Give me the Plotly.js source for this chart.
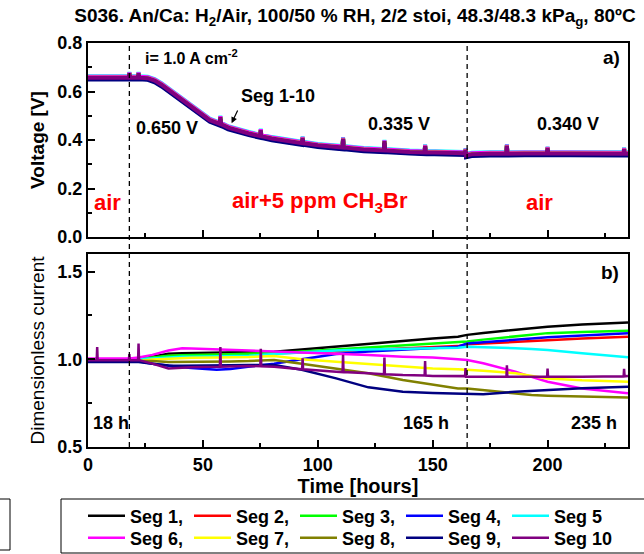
<!DOCTYPE html>
<html>
<head>
<meta charset="utf-8">
<script src="https://cdn.plot.ly/plotly-3.0.1.min.js"></script>
<style>html,body{margin:0;padding:0;background:#fff;}#chart{width:644px;height:554px;}</style>
</head>
<body>
<div id="chart"></div>
<script>
// ---------------- DATA ----------------
const segNames  = ['Seg 1,', 'Seg 2,', 'Seg 3,', 'Seg 4,', 'Seg 5', 'Seg 6,', 'Seg 7,', 'Seg 8,', 'Seg 9,', 'Seg 10'];
const segColors = ['#000000', '#ff0000', '#00ff00', '#0000ff', '#00ffff', '#ff00ff', '#ffff00', '#808000', '#000080', '#800080'];

// panel a) cell voltage (all segments nearly identical), hours / volts
const voltTime = [0, 10, 17.8, 18.0, 18.2, 21.8, 22.0, 22.2, 26, 29, 32, 35, 38, 41, 44, 47, 50, 53,
  57.4, 57.6, 57.8, 61, 65, 70, 75.0, 75.2, 75.4, 80, 86, 93.2, 93.4, 93.6, 100, 110.8, 111.0, 111.2,
  120, 128.8, 129.0, 129.2, 140, 146.5, 146.7, 146.9, 160, 164.1, 164.3, 164.5, 165, 167, 175,
  182.1, 182.3, 182.5, 190, 199.8, 200.0, 200.2, 210, 220, 233.1, 233.3, 233.5, 235];
const voltValue = [0.657, 0.656, 0.657, 0.675, 0.657, 0.657, 0.675, 0.657, 0.655, 0.645, 0.628, 0.607, 0.585, 0.563, 0.541, 0.519, 0.499, 0.482,
  0.466, 0.494, 0.466, 0.451, 0.439, 0.427, 0.416, 0.441, 0.416, 0.406, 0.397, 0.387, 0.409, 0.387, 0.378, 0.369, 0.406, 0.369,
  0.361, 0.357, 0.395, 0.357, 0.351, 0.349, 0.376, 0.349, 0.346, 0.345, 0.360, 0.336, 0.337, 0.341, 0.343,
  0.343, 0.377, 0.343, 0.344, 0.344, 0.367, 0.344, 0.344, 0.343, 0.343, 0.363, 0.343, 0.343];
const voltOffset = [0.000, 0.002, 0.001, -0.004, 0.006, 0.004, 0.000, -0.002, -0.007, 0.000];

// panel b) dimensionless current
const curTime = [0, 18, 22, 28, 35, 41, 45, 56, 62, 70, 81, 93, 108, 122, 137, 150, 161, 165, 172, 186, 193, 200, 215, 235];
const seg1  = [1.000, 1.000, 1.000, 1.015, 1.032, 1.035, 1.036, 1.037, 1.037, 1.038, 1.043, 1.055, 1.072, 1.090, 1.106, 1.118, 1.129, 1.139, 1.150, 1.170, 1.178, 1.186, 1.198, 1.210];
const seg2  = [1.000, 1.000, 1.000, 1.008, 1.018, 1.022, 1.024, 1.026, 1.027, 1.029, 1.032, 1.038, 1.046, 1.053, 1.061, 1.068, 1.075, 1.085, 1.090, 1.100, 1.105, 1.110, 1.118, 1.128];
const seg3  = [1.000, 1.000, 1.000, 1.010, 1.020, 1.023, 1.025, 1.027, 1.028, 1.030, 1.036, 1.045, 1.057, 1.070, 1.082, 1.092, 1.100, 1.102, 1.112, 1.130, 1.140, 1.149, 1.156, 1.162];
const seg4  = [0.990, 0.990, 0.988, 0.975, 0.962, 0.955, 0.950, 0.940, 0.945, 0.958, 0.975, 1.000, 1.030, 1.045, 1.055, 1.063, 1.072, 1.090, 1.096, 1.110, 1.118, 1.126, 1.137, 1.149];
const seg5  = [1.000, 1.000, 1.000, 1.005, 1.012, 1.014, 1.015, 1.016, 1.017, 1.020, 1.030, 1.040, 1.050, 1.055, 1.060, 1.064, 1.066, 1.072, 1.070, 1.063, 1.058, 1.053, 1.034, 1.011];
const seg6  = [1.005, 1.005, 1.010, 1.025, 1.050, 1.063, 1.062, 1.057, 1.054, 1.050, 1.043, 1.040, 1.034, 1.025, 1.015, 1.010, 1.000, 0.996, 0.977, 0.929, 0.900, 0.872, 0.834, 0.806];
const seg7  = [0.990, 0.990, 0.990, 0.998, 1.003, 1.006, 1.008, 1.010, 1.011, 1.013, 1.019, 1.000, 0.986, 0.972, 0.958, 0.948, 0.943, 0.940, 0.935, 0.920, 0.905, 0.891, 0.880, 0.872];
const seg8  = [0.990, 0.990, 0.990, 0.990, 0.985, 0.985, 0.986, 0.987, 0.988, 0.990, 0.996, 0.975, 0.948, 0.920, 0.882, 0.855, 0.834, 0.834, 0.825, 0.805, 0.796, 0.792, 0.787, 0.782];
const seg9  = [0.985, 0.985, 0.985, 0.975, 0.965, 0.963, 0.963, 0.965, 0.966, 0.968, 0.967, 0.940, 0.891, 0.840, 0.815, 0.808, 0.806, 0.806, 0.801, 0.815, 0.820, 0.825, 0.835, 0.843];
const seg10Time = [0, 3.8, 4.0, 4.2, 17.8, 18.0, 18.2, 21.8, 22.0, 22.2, 28, 35, 45, 57.4, 57.6, 57.8, 70, 75.0, 75.2, 75.4,
  81, 93.2, 93.4, 93.6, 108, 110.8, 111.0, 111.2, 122, 128.8, 129.0, 129.2, 137, 146.5, 146.7, 146.9, 150, 161,
  164.1, 164.3, 164.5, 182.1, 182.3, 182.5, 199.8, 200.0, 200.2, 215, 233.1, 233.3, 233.5, 235];
const seg10 = [0.995, 0.995, 1.070, 0.995, 0.995, 1.030, 0.995, 0.995, 1.090, 0.995, 0.975, 0.948, 0.955, 0.958, 1.070, 0.958, 0.962, 0.960, 1.060, 0.960,
  0.958, 0.943, 1.006, 0.943, 0.929, 0.927, 1.025, 0.927, 0.920, 0.915, 1.010, 0.915, 0.910, 0.907, 0.990, 0.907, 0.905, 0.905,
  0.904, 0.950, 0.900, 0.900, 0.965, 0.900, 0.900, 0.947, 0.900, 0.900, 0.903, 0.945, 0.903, 0.905];
const curTimes  = [curTime, curTime, curTime, curTime, curTime, curTime, curTime, curTime, curTime, seg10Time];
const curValues = [seg1, seg2, seg3, seg4, seg5, seg6, seg7, seg8, seg9, seg10];

const eventTimes = [18, 165];

// ---------------- LAYOUT HELPERS ----------------
const W = 644, H = 554;
const mL = 88, mR = 16, mT = 43, mB = 107;
const plotH = H - mT - mB;            // 404
const pw = W - mL - mR;               // 540
const py = (pix) => (H - mB - pix) / plotH;   // page y pixel -> paper y
const px = (pix) => (pix - mL) / pw;           // page x pixel -> paper x
const FONT = 'Liberation Sans, Arial, sans-serif';

const traces = [];
for (let i = 0; i < 10; i++) {
  traces.push({
    x: voltTime, y: voltValue.map(v => v + voltOffset[i]),
    xaxis: 'x2', yaxis: 'y', type: 'scatter', mode: 'lines',
    line: {color: segColors[i], width: 4}, showlegend: false, hoverinfo: 'skip'
  });
}
for (let i = 0; i < 10; i++) {
  traces.push({
    x: curTimes[i], y: curValues[i],
    xaxis: 'x', yaxis: 'y2', type: 'scatter', mode: 'lines', name: segNames[i],
    line: {color: segColors[i], width: 2.5}, showlegend: true,
    legend: i < 5 ? 'legend' : 'legend2'
  });
}

const axisCommon = {
  showline: true, linecolor: '#000', linewidth: 2, mirror: true,
  ticks: 'inside', ticklen: 7, tickwidth: 2, tickcolor: '#000',
  showgrid: false, zeroline: false,
  tickfont: {family: FONT, size: 18, weight: 'bold', color: '#000'},
  minor: {ticks: 'inside', ticklen: 4, tickwidth: 2, tickcolor: '#000', showgrid: false}
};

const legendCommon = {
  orientation: 'h', xanchor: 'left', yanchor: 'middle',
  font: {family: FONT, size: 18, weight: 'bold', color: '#000'},
  itemwidth: 37, entrywidth: 54, entrywidthmode: 'pixels',
  bgcolor: 'rgba(0,0,0,0)', borderwidth: 0, traceorder: 'normal',
  itemclick: false, itemdoubleclick: false
};

const ann = (text, x, y, xref, yref, opts) => Object.assign({
  text, x, y, xref, yref, showarrow: false, xanchor: 'center', yanchor: 'middle',
  font: {family: FONT, size: 18, weight: 'bold', color: '#000'}
}, opts || {});
const red = {font: {family: FONT, size: 22, weight: 'bold', color: '#ff0000'}};

const layout = {
  width: W, height: H,
  margin: {l: mL, r: mR, t: mT, b: mB, autoexpand: false},
  paper_bgcolor: '#fff', plot_bgcolor: '#fff',
  font: {family: FONT, color: '#000'},
  title: {
    text: 'S036. An/Ca: H<sub>2</sub>/Air, 100/50 % RH, 2/2 stoi, 48.3/48.3 kPa<sub>g</sub>, 80ºC',
    font: {family: FONT, size: 19, weight: 'bold', color: '#000'},
    xref: 'container', x: 355 / W, xanchor: 'center',
    yref: 'container', y: 1 - 9 / H, yanchor: 'top'
  },
  xaxis: Object.assign({}, axisCommon, {
    anchor: 'y2', range: [0, 235], dtick: 50, tick0: 0,
    minor: Object.assign({}, axisCommon.minor, {dtick: 25}),
    ticklabelstandoff: 0,
    title: {text: 'Time [hours]', font: {family: FONT, size: 20, weight: 'bold', color: '#000'}, standoff: 0}
  }),
  xaxis2: Object.assign({}, axisCommon, {
    anchor: 'y', matches: 'x', range: [0, 235], dtick: 50, showticklabels: false,
    minor: Object.assign({}, axisCommon.minor, {dtick: 25})
  }),
  yaxis: Object.assign({}, axisCommon, {
    domain: [py(237), 1], range: [0, 0.8], dtick: 0.2, tick0: 0, tickformat: '.1f',
    minor: Object.assign({}, axisCommon.minor, {dtick: 0.1}),
    title: {text: 'Voltage [V]', font: {family: FONT, size: 19, weight: 'bold', color: '#000'}, standoff: 8}
  }),
  yaxis2: Object.assign({}, axisCommon, {
    domain: [0, py(254)], range: [0.5, 1.6], dtick: 0.5, tick0: 0.5, tickformat: '.1f',
    minor: Object.assign({}, axisCommon.minor, {dtick: 0.25}),
    title: {text: 'Dimensionless current', font: {family: FONT, size: 19, weight: 'normal', color: '#000'}, standoff: 8}
  }),
  legend: Object.assign({}, legendCommon, {x: px(83), y: py(516)}),
  legend2: Object.assign({}, legendCommon, {x: px(83), y: py(538)}),
  shapes: [
    ...eventTimes.map(t => ({type: 'line', xref: 'x', yref: 'paper', x0: t, x1: t, y0: 0, y1: 1,
      line: {color: '#000', width: 1.3, dash: '5px,4px'}})),
    {type: 'rect', xref: 'paper', yref: 'paper', x0: px(61), x1: px(660), y0: py(499), y1: py(553),
      line: {color: '#000', width: 1}, fillcolor: 'rgba(0,0,0,0)'},
    {type: 'rect', xref: 'paper', yref: 'paper', x0: px(-20), x1: px(10), y0: py(499), y1: py(550),
      line: {color: '#000', width: 1}, fillcolor: 'rgba(0,0,0,0)'}
  ],
  annotations: [
    ann('i= 1.0 A cm<sup>-2</sup>', 24.1, 0.742, 'x2', 'y', {xanchor: 'left', font: {family: FONT, size: 16, weight: 'bold', color: '#000'}}),
    ann('a)', 227.6, 0.742, 'x2', 'y', {font: {family: FONT, size: 19, weight: 'bold', color: '#000'}}),
    ann('Seg 1-10', 82.5, 0.581, 'x2', 'y'),
    {text: '', x: 62.5, y: 0.469, xref: 'x2', yref: 'y', showarrow: true, ax: 6.7, ay: -14.3,
      arrowhead: 2, arrowsize: 1, arrowwidth: 1.2, arrowcolor: '#000', standoff: 0},
    ann('0.650 V', 34.4, 0.4515, 'x2', 'y'),
    ann('0.335 V', 135.4, 0.464, 'x2', 'y'),
    ann('0.340 V', 208.9, 0.464, 'x2', 'y'),
    ann('air', 8.5, 0.144, 'x2', 'y', red),
    ann('air+5 ppm CH<sub>3</sub>Br', 101.1, 0.144, 'x2', 'y', red),
    ann('air', 196.7, 0.144, 'x2', 'y', red),
    ann('b)', 227.2, 1.497, 'x', 'y2', {font: {family: FONT, size: 19, weight: 'bold', color: '#000'}}),
    ann('18 h', 9.8, 0.637, 'x', 'y2'),
    ann('165 h', 147.2, 0.637, 'x', 'y2'),
    ann('235 h', 220.2, 0.637, 'x', 'y2')
  ]
};

Plotly.newPlot('chart', traces, layout, {staticPlot: true, displayModeBar: false});
</script>
</body>
</html>
